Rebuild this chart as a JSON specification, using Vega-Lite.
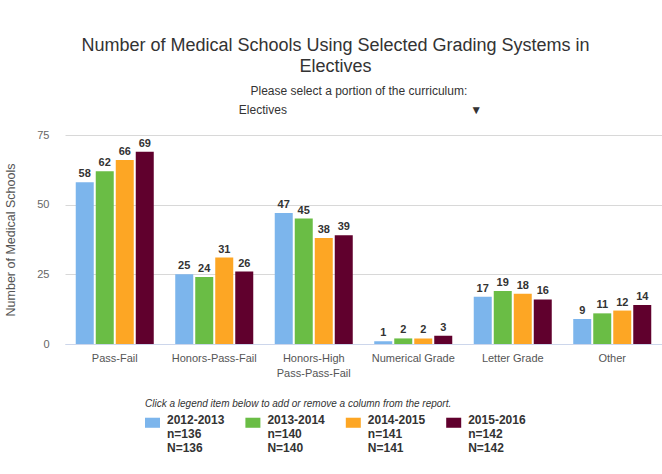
{
  "$schema": "https://vega.github.io/schema/vega-lite/v6.json",
  "width": 597,
  "height": 209,
  "autosize": {"type": "none"},
  "padding": {"left": 65, "top": 135, "right": 0, "bottom": 130},
  "background": "white",
  "config": {"font": "Liberation Sans", "view": {"stroke": null}},
  "title": {
    "text": ["Number of Medical Schools Using Selected Grading Systems in", "Electives"],
    "subtitle": [
      "\u200B\u00a0\u00a0\u00a0\u00a0\u00a0\u00a0\u00a0\u00a0\u00a0\u00a0\u00a0\u00a0\u00a0\u00a0Please select a portion of the curriculum:",
      "\u200B\u00a0\u00a0\u00a0\u00a0\u00a0\u00a0\u00a0\u00a0\u00a0\u00a0\u00a0\u00a0\u00a0\u00a0\u00a0Electives\u00a0\u00a0\u00a0\u00a0\u00a0\u00a0\u00a0\u00a0\u00a0\u00a0\u00a0\u00a0\u00a0\u00a0\u00a0\u00a0\u00a0\u00a0\u00a0\u00a0\u00a0\u00a0\u00a0\u00a0\u00a0\u00a0\u00a0\u00a0\u00a0\u00a0\u00a0\u00a0\u00a0\u00a0\u00a0\u00a0\u00a0\u00a0\u00a0\u00a0\u00a0\u00a0\u00a0\u00a0\u00a0\u00a0\u00a0\u00a0\u00a0\u00a0\u00a0\u00a0\u00a0\u00a0\u00a0\u25BC"
    ],
    "anchor": "middle",
    "frame": "group",
    "dx": -28,
    "fontSize": 18,
    "fontWeight": "normal",
    "color": "#333333",
    "lineHeight": 21.5,
    "subtitleFontSize": 12,
    "subtitleColor": "#333333",
    "subtitleLineHeight": 19,
    "subtitlePadding": 10,
    "offset": 13
  },
  "data": {
    "values": [
      {"category": "Pass-Fail", "year": "2012-2013", "count": 58},
      {"category": "Pass-Fail", "year": "2013-2014", "count": 62},
      {"category": "Pass-Fail", "year": "2014-2015", "count": 66},
      {"category": "Pass-Fail", "year": "2015-2016", "count": 69},
      {"category": "Honors-Pass-Fail", "year": "2012-2013", "count": 25},
      {"category": "Honors-Pass-Fail", "year": "2013-2014", "count": 24},
      {"category": "Honors-Pass-Fail", "year": "2014-2015", "count": 31},
      {"category": "Honors-Pass-Fail", "year": "2015-2016", "count": 26},
      {"category": "Honors-High Pass-Pass-Fail", "year": "2012-2013", "count": 47},
      {"category": "Honors-High Pass-Pass-Fail", "year": "2013-2014", "count": 45},
      {"category": "Honors-High Pass-Pass-Fail", "year": "2014-2015", "count": 38},
      {"category": "Honors-High Pass-Pass-Fail", "year": "2015-2016", "count": 39},
      {"category": "Numerical Grade", "year": "2012-2013", "count": 1},
      {"category": "Numerical Grade", "year": "2013-2014", "count": 2},
      {"category": "Numerical Grade", "year": "2014-2015", "count": 2},
      {"category": "Numerical Grade", "year": "2015-2016", "count": 3},
      {"category": "Letter Grade", "year": "2012-2013", "count": 17},
      {"category": "Letter Grade", "year": "2013-2014", "count": 19},
      {"category": "Letter Grade", "year": "2014-2015", "count": 18},
      {"category": "Letter Grade", "year": "2015-2016", "count": 16},
      {"category": "Other", "year": "2012-2013", "count": 9},
      {"category": "Other", "year": "2013-2014", "count": 11},
      {"category": "Other", "year": "2014-2015", "count": 12},
      {"category": "Other", "year": "2015-2016", "count": 14}
    ]
  },
  "encoding": {
    "x": {
      "field": "category",
      "type": "nominal",
      "sort": null,
      "scale": {"paddingInner": 0.216, "paddingOuter": 0.108},
      "axis": {
        "title": null,
        "labelAngle": 0,
        "ticks": false,
        "domainColor": "#ccd6eb",
        "labelColor": "#555555",
        "labelFontSize": 11,
        "labelPadding": 8,
        "labelLineHeight": 15,
        "labelExpr": "datum.label == 'Honors-High Pass-Pass-Fail' ? ['Honors-High', 'Pass-Pass-Fail'] : datum.label"
      }
    },
    "xOffset": {"field": "year", "type": "nominal", "scale": {"paddingInner": 0.1, "paddingOuter": 0}},
    "y": {
      "field": "count",
      "type": "quantitative",
      "scale": {"domain": [0, 75], "nice": false},
      "axis": {
        "title": "Number of Medical Schools",
        "values": [0, 25, 50, 75],
        "domain": false,
        "ticks": false,
        "gridColor": "#d8d8d8",
        "labelColor": "#666666",
        "labelFontSize": 11,
        "labelPadding": 16,
        "titleColor": "#555555",
        "titleFontSize": 12.5,
        "titleFontWeight": "normal",
        "titlePadding": 19
      }
    }
  },
  "layer": [
    {
      "mark": {"type": "bar"},
      "encoding": {
        "color": {
          "field": "year",
          "type": "nominal",
          "scale": {"range": ["#7cb5ec", "#6abd45", "#fda624", "#60002d"]},
          "legend": {
            "orient": "none",
            "legendX": 80,
            "legendY": 264,
            "direction": "horizontal",
            "columns": 4,
            "padding": 0,
            "title": "Click a legend item below to add or remove a column from the report.",
            "titleFontStyle": "italic",
            "titleFontWeight": "normal",
            "titleFontSize": 10,
            "titleColor": "#333333",
            "titlePadding": 6,
            "titleLimit": 600,
            "symbolType": "M-1,-0.67H1V0.67H-1Z",
            "symbolSize": 225,
            "symbolStrokeWidth": 0,
            "symbolOpacity": 1,
            "labelFontSize": 12,
            "labelFontWeight": "bold",
            "labelColor": "#333333",
            "labelBaseline": "top",
            "labelLineHeight": 14.5,
            "labelOffset": 7,
            "columnPadding": 20.4,
            "labelExpr": "datum.label == '2012-2013' ? ['2012-2013', 'n=136', 'N=136'] : datum.label == '2013-2014' ? ['2013-2014', 'n=140', 'N=140'] : datum.label == '2014-2015' ? ['2014-2015', 'n=141', 'N=141'] : ['2015-2016', 'n=142', 'N=142']",
            "encode": {"labels": {"update": {"dy": {"value": -8}}}}
          }
        }
      }
    },
    {
      "mark": {"type": "text", "baseline": "bottom", "dy": -3, "fontSize": 11, "fontWeight": "bold", "color": "#333333"},
      "encoding": {"text": {"field": "count", "type": "quantitative"}}
    }
  ]
}
